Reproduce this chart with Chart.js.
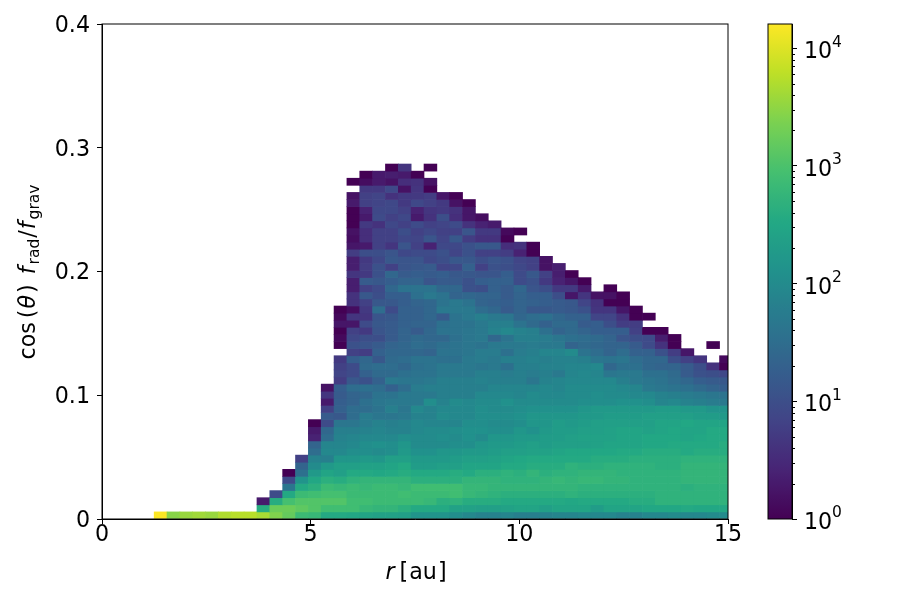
<!DOCTYPE html>
<html lang="en">
<head>
    <meta charset="UTF-8">
    <title>cos(theta) frad/fgrav histogram</title>
    <script src="https://cdn.jsdelivr.net/npm/chart.js"></script>
    <style>
        body, html {
            margin: 0;
            background: #fff;
        }
        #wrap {
            position: relative;
            width: 900px;
            height: 600px;
        }
        #wrap canvas {
            position: absolute;
            top: 0;
        }
    </style>
</head>
<body>
    <div id="wrap">
        <canvas id="histChart" width="900" height="600" style="left:0"></canvas>
        <canvas id="barChart" width="160" height="600" style="left:740px"></canvas>
    </div>
    <script>
        // histogram bins
        const rFirst = 1.25;
        const rStep = 0.3079;
        const fStep = 0.005737;

        const xTicks = [0, 5, 10, 15];
        const yTicks = [0, 0.1, 0.2, 0.3, 0.4];
        const barTicks = [1, 10, 100, 1000, 10000];
        const barMinorTicks = [2, 3, 4, 5, 6, 7, 8, 9, 20, 30, 40, 50, 60, 70, 80, 90, 200, 300, 400, 500, 600, 700, 800, 900, 2000, 3000, 4000, 5000, 6000, 7000, 8000, 9000];
        const barMax = 16030;

        // first filled r bin of every f bin, bottom row first
        const rowStart = [0, 8, 8, 9, 10, 10, 10, 11, 11, 12, 12, 12, 12, 12, 13, 13, 13, 13, 13, 14, 14, 14, 14, 15, 14, 14, 14, 14, 14, 14, 15, 15, 15, 15, 15, 15, 15, 15, 15, 15, 15, 15, 15, 15, 15, 15, 16, 15, 16, 18];

        // log10(count), one line per f bin, bottom row first
        const logCounts = [
            [4.2,3.45,3.55,3.6,3.55,3.7,3.75,3.75,3.65,3.4,3.2,2.85,2.8,2.55,2.55,2.5,2.45,2.4,2.4,2.35,2.15,2.15,2.15,2.05,1.95,1.85,1.85,1.9,1.8,1.8,1.85,1.9,1.9,1.95,1.95,1.95,1.85,1.85,1.95,1.95,2.0,1.95,1.95,2.0,2.0],
            [2.6,3.25,3.25,3.15,3.05,2.9,2.9,2.9,2.8,2.75,2.75,2.65,2.55,2.55,2.55,2.4,2.4,2.35,2.35,2.4,2.45,2.45,2.35,2.45,2.45,2.45,2.3,2.45,2.45,2.45,2.5,2.5,2.5,2.55,2.5,2.5,2.5],
            [0.3,2.6,2.95,3.05,3.05,3.05,3.05,2.9,2.9,2.85,2.85,2.85,2.85,2.8,2.65,2.7,2.6,2.6,2.6,2.55,2.55,2.55,2.55,2.55,2.5,2.55,2.55,2.55,2.55,2.6,2.6,2.7,2.7,2.7,2.7,2.7,2.7],
            [0.95,2.55,2.85,2.9,2.95,2.95,2.85,2.85,2.85,2.85,2.9,2.85,2.85,2.85,2.9,2.8,2.75,2.7,2.65,2.65,2.65,2.65,2.65,2.7,2.65,2.65,2.65,2.65,2.65,2.65,2.7,2.7,2.7,2.7,2.7,2.7],
            [1.65,2.55,2.65,2.85,2.8,2.85,2.8,2.85,2.85,2.8,2.9,2.9,2.9,2.9,2.8,2.8,2.75,2.75,2.75,2.75,2.75,2.75,2.75,2.7,2.7,2.7,2.7,2.7,2.7,2.7,2.7,2.65,2.7,2.7,2.7],
            [0.95,2.15,2.5,2.65,2.6,2.7,2.75,2.75,2.75,2.75,2.65,2.65,2.65,2.65,2.75,2.75,2.75,2.7,2.7,2.7,2.75,2.8,2.75,2.8,2.8,2.75,2.75,2.7,2.7,2.7,2.7,2.75,2.75,2.75,2.75],
            [0,1.55,2.25,2.45,2.35,2.55,2.55,2.5,2.55,2.6,2.55,2.55,2.55,2.6,2.55,2.65,2.65,2.7,2.65,2.75,2.65,2.7,2.7,2.75,2.75,2.75,2.7,2.7,2.7,2.7,2.7,2.75,2.75,2.75,2.75],
            [1.35,2.0,2.25,2.35,2.35,2.4,2.4,2.45,2.55,2.3,2.3,2.35,2.35,2.45,2.45,2.45,2.55,2.55,2.6,2.6,2.6,2.7,2.65,2.65,2.7,2.7,2.7,2.7,2.65,2.65,2.75,2.75,2.75,2.75],
            [0.8,1.85,1.8,2.2,2.2,2.25,2.2,2.35,2.35,2.25,2.25,2.25,2.3,2.35,2.35,2.4,2.45,2.5,2.55,2.55,2.55,2.55,2.55,2.6,2.6,2.6,2.65,2.65,2.65,2.65,2.7,2.7,2.7,2.7],
            [1.5,1.95,1.95,2.05,2.05,2.0,2.05,2.25,2.1,2.1,2.2,2.2,2.25,2.25,2.3,2.35,2.35,2.4,2.4,2.45,2.5,2.5,2.5,2.5,2.55,2.55,2.6,2.6,2.6,2.55,2.6,2.6,2.6],
            [1.35,1.9,1.9,1.95,2.05,2.1,2.05,2.2,2.0,2.0,2.0,2.05,2.05,2.2,2.25,2.25,2.3,2.35,2.3,2.35,2.35,2.35,2.4,2.45,2.45,2.45,2.5,2.5,2.55,2.55,2.55,2.55,2.6],
            [0.4,1.5,1.85,1.9,1.95,1.95,1.95,2.05,2.0,2.0,2.05,2.0,2.1,2.0,2.2,2.2,2.25,2.25,2.3,2.3,2.35,2.4,2.4,2.4,2.45,2.45,2.5,2.5,2.5,2.45,2.5,2.55,2.55],
            [0.3,1.4,1.8,1.8,1.85,1.9,1.85,1.85,1.95,2.0,2.0,2.05,2.1,2.1,2.05,2.05,2.2,2.1,2.25,2.3,2.3,2.35,2.35,2.4,2.45,2.45,2.4,2.45,2.5,2.45,2.45,2.55,2.55],
            [0,0.95,1.65,1.65,1.75,1.85,1.8,1.85,1.95,1.9,1.9,1.9,2.05,2.05,2.0,2.0,2.05,2.2,2.2,2.3,2.25,2.3,2.35,2.35,2.35,2.35,2.35,2.45,2.45,2.5,2.45,2.45,2.45],
            [1.2,1.15,1.5,1.75,1.65,1.65,1.7,1.85,1.85,2.0,1.95,1.95,2.05,2.05,2.05,2.1,2.2,2.2,2.2,2.2,2.25,2.25,2.3,2.3,2.3,2.35,2.35,2.35,2.35,2.3,2.3,2.25],
            [0.8,1.3,1.5,1.5,1.6,1.8,1.65,1.95,1.85,1.95,1.95,1.95,2.05,2.0,2.0,2.05,2.1,2.1,2.1,2.1,2.2,2.25,2.25,2.25,2.25,2.25,2.3,2.3,2.25,2.25,2.15,2.15],
            [0.3,1.25,1.35,1.55,1.65,1.7,1.7,1.7,2.05,1.85,2.0,1.95,2.0,2.0,2.1,2.0,2.0,2.0,2.0,2.0,2.05,2.05,2.05,2.1,2.1,2.05,1.9,1.95,1.85,1.8,1.75,1.7],
            [0.65,1.2,1.35,1.4,1.6,1.6,1.7,1.7,1.7,1.8,1.8,1.8,1.95,1.95,1.95,1.9,2.0,1.95,1.95,2.0,2.0,2.05,2.0,2.0,1.95,1.95,1.85,1.8,1.75,1.7,1.65,1.6],
            [0.2,1.25,1.5,1.55,1.5,1.3,1.5,1.75,1.8,1.8,1.8,1.8,1.8,1.9,1.9,1.9,1.9,1.95,1.9,2.0,2.0,2.0,2.0,1.95,1.9,1.7,1.65,1.6,1.55,1.45,1.35,1.25],
            [0.75,1.15,1.05,1.3,1.7,1.65,1.65,1.7,1.8,1.8,1.8,1.85,1.8,1.8,1.8,1.65,1.85,1.9,1.95,1.95,1.95,1.95,1.8,1.7,1.65,1.6,1.5,1.4,1.25,1.2,1.15],
            [0.85,0.95,1.3,1.45,1.45,1.55,1.6,1.6,1.7,1.7,1.7,1.8,1.8,1.75,1.8,1.75,1.8,1.7,1.9,1.95,1.9,1.65,1.7,1.7,1.55,1.55,1.45,1.2,1.05,1.0,0.9],
            [0.8,0.95,1.45,1.5,1.5,1.4,1.55,1.6,1.7,1.7,1.7,1.65,1.7,1.55,1.8,1.8,1.85,1.85,1.9,1.9,1.95,1.4,1.55,1.55,1.4,1.35,1.35,1.2,1.0,0.6,0],
            [0.7,1.25,1.4,1.15,1.45,1.5,1.6,1.6,1.55,1.55,1.7,1.75,1.7,1.8,1.8,1.85,1.8,1.85,1.85,1.8,1.65,1.6,1.65,1.5,1.4,1.4,1.0,0.8,0.65,null,0.1],
            [0.8,0.75,1.3,1.4,1.4,1.4,1.35,1.6,1.6,1.65,1.75,1.75,1.55,1.75,1.8,1.9,1.9,2.0,1.6,1.5,1.35,1.5,1.3,1.3,1.05,0.75,0.25],
            [0,1.05,1.1,1.2,1.35,1.4,1.5,1.45,1.55,1.6,1.65,1.6,1.7,1.7,1.7,1.75,1.7,1.7,1.35,1.45,1.4,1.35,1.35,1.2,0.95,0.6,0,null,null,0],
            [0.1,0.9,1.0,1.0,1.2,1.35,1.45,1.4,1.4,1.55,1.65,1.7,1.4,1.6,1.8,1.8,1.75,1.65,1.55,1.5,1.45,1.35,1.1,1.0,0.95,0.35,0],
            [0,0.8,0.7,1.1,1.2,1.35,1.2,1.4,1.6,1.6,1.65,1.7,1.85,1.95,1.85,1.8,1.55,1.35,1.45,1.35,1.25,1.25,1.25,0.8,0,0],
            [0.25,0.25,0.95,1.15,1.2,1.3,1.35,1.35,1.55,1.6,1.6,1.7,1.8,1.8,1.6,1.45,1.3,1.45,1.45,1.2,1.25,1.0,0.75,0.75],
            [0.1,0.65,0.65,1.1,1.15,1.3,1.3,1.4,1.2,1.6,1.7,1.8,1.7,1.65,1.4,1.5,1.55,1.4,1.3,1.3,0.85,0.85,0.6,0,0],
            [0,0.15,0.7,1.5,0.95,1.3,1.3,1.4,1.7,1.7,1.7,1.5,1.4,1.2,1.35,1.15,1.15,1.2,1.15,1.05,0.65,0.65,0.25,0],
            [0.6,0.8,1.15,1.15,1.25,1.35,1.4,1.6,1.7,1.6,1.35,1.3,1.25,1.35,1.3,1.25,1.2,1.15,0.85,0.6,0,0],
            [0.6,1.15,1.0,1.25,1.25,1.55,1.7,1.6,1.35,1.4,1.35,1.35,1.2,1.35,1.25,1.25,1.0,0.25,0.65,0.2,0.2,0],
            [0.35,0.8,0.95,1.4,1.6,1.6,1.6,1.4,1.4,1.05,1.0,1.3,1.2,1.4,1.1,1.0,0.7,0.7,0.3,null,0],
            [0.35,1.2,1.15,1.25,1.35,1.35,1.1,1.2,1.2,1.05,1.25,1.3,1.3,0.95,1.05,0.7,0.4,0.25,0],
            [0.65,0.7,1.05,1.4,1.2,1.25,1.2,1.25,1.15,1.15,1.1,1.1,1.25,0.95,1.15,0.8,0.35,0],
            [0.35,0.75,1.05,0.8,1.1,1.15,1.2,0.85,0.9,1.3,0.8,1.05,1.0,0.9,0.8,0.2,0.35],
            [0.35,0.7,0.9,1.15,1.1,1.1,0.9,1.0,1.15,1.15,1.0,1.1,1.05,0.85,0.8,0.2],
            [0.75,1.0,1.0,1.1,0.9,0.95,0.95,1.05,0.85,1.05,0.8,0.8,0.75,0.4,0],
            [0.25,0.3,0.8,0.65,1.1,0.8,0.4,0.9,0.9,1.05,1.15,1.15,0.55,0.6,0],
            [0.15,0.55,0.8,0.8,0.9,0.85,1.1,0.85,1.15,0.75,0.6,0.6,0],
            [0.2,0.55,0.8,0.8,1.0,0.8,0.9,0.8,0.8,1.1,0.7,0.7,0.1,0],
            [0,0.7,0.6,0.9,0.8,0.95,0.8,0.85,0.95,0.6,0.4,0.3],
            [0,0.3,0.95,0.8,0.9,0.3,0.6,1.0,0.55,0.25,0.15],
            [0,0.4,0.9,0.9,0.8,0.4,0.65,0.7,0.6,0.25],
            [0.3,0.8,0.85,0.9,0.7,0.9,0.8,0.7,0.2,0],
            [0.2,0.8,0.85,0.6,0.7,0.7,0.75,0.25,0],
            [0.7,0.7,0.9,0.2,0.65,0],
            [0,0.15,0.3,0.2,0.55,0.6,0.2],
            [0,0.3,0.35,0.3,0],
            [0,0.65,null,0]
        ];

        const mathFont = '"DejaVu Sans"';
        const viridisStops = ['#440154', '#482475', '#414487', '#355f8d', '#2a788e', '#21918c', '#22a884', '#44bf70', '#7ad151', '#bddf26', '#fde725'];

        function hexToRgb(hex) {
            return [1, 3, 5].map(i => parseInt(hex.slice(i, i + 2), 16));
        }

        function viridis(t) {
            const pos = Math.min(Math.max(t, 0), 1) * (viridisStops.length - 1);
            const i = Math.min(Math.floor(pos), viridisStops.length - 2);
            const a = hexToRgb(viridisStops[i]);
            const b = hexToRgb(viridisStops[i + 1]);
            const f = pos - i;
            return 'rgb(' + a.map((v, k) => Math.round(v + (b[k] - v) * f)).join(',') + ')';
        }

        const cells = [];
        const cellColors = [];
        const logMax = Math.log10(barMax);
        logCounts.forEach((row, r) => {
            row.forEach((v, k) => {
                if (v === null) return;
                const c = rowStart[r] + k;
                cells.push({ x: rFirst + (c + 0.5) * rStep, y: [r * fStep, (r + 1) * fStep] });
                cellColors.push(viridis(v / logMax));
            });
        });

        // mathtext-like label: runs of text with their own font style and size
        function drawRuns(ctx, runs, size) {
            const setFont = run => {
                ctx.font = (run.italic ? 'italic ' : '') + (run.sub ? size * 0.7 : size) + 'px ' + mathFont;
            };
            let total = 0;
            runs.forEach(run => {
                setFont(run);
                run.w = ctx.measureText(run.text).width + (run.gap || 0);
                total += run.w;
            });
            let x = -total / 2;
            ctx.textBaseline = 'alphabetic';
            ctx.textAlign = 'left';
            ctx.fillStyle = '#000';
            runs.forEach(run => {
                setFont(run);
                ctx.fillText(run.text, x, run.sub ? size * 0.2 : 0);
                x += run.w;
            });
        }

        const frameAndLabels = {
            id: 'frameAndLabels',
            afterDraw(chart) {
                const { ctx, chartArea: a } = chart;
                ctx.save();
                ctx.strokeStyle = '#000';
                ctx.lineWidth = 1;
                ctx.strokeRect(a.left, a.top, a.right - a.left, a.bottom - a.top);
                ctx.translate(416, 579);
                drawRuns(ctx, [
                    { text: 'r', italic: true, gap: 5 },
                    { text: '[', gap: 1 },
                    { text: 'au', gap: 1 },
                    { text: ']' }
                ], 22.2);
                ctx.restore();
                ctx.save();
                ctx.translate(35, 272);
                ctx.rotate(-Math.PI / 2);
                drawRuns(ctx, [
                    { text: 'cos', gap: 4 },
                    { text: '(', gap: 1 },
                    { text: '\u03b8', italic: true, gap: 2 },
                    { text: ')', gap: 10 },
                    { text: 'f', italic: true, gap: 2 },
                    { text: 'rad', sub: true, gap: 1 },
                    { text: '/', gap: 1 },
                    { text: 'f', italic: true, gap: 2 },
                    { text: 'grav', sub: true }
                ], 22.2);
                ctx.restore();
            }
        };

        Chart.defaults.font.family = mathFont;
        Chart.defaults.font.size = 22.2;
        Chart.defaults.color = '#000';

        new Chart(document.getElementById('histChart'), {
            type: 'bar',
            data: {
                datasets: [{
                    data: cells,
                    backgroundColor: cellColors,
                    borderWidth: 0,
                    barPercentage: 1,
                    categoryPercentage: 1
                }]
            },
            options: {
                responsive: false,
                animation: false,
                events: [],
                layout: { padding: { top: 24, right: 172, left: 0, bottom: 0 } },
                plugins: { legend: { display: false }, tooltip: { enabled: false } },
                scales: {
                    x: {
                        type: 'linear',
                        offset: false,
                        min: 0,
                        max: 15,
                        afterBuildTicks: s => { s.ticks = xTicks.map(v => ({ value: v })); },
                        afterFit: s => { s.height = 81; },
                        grid: { offset: false, drawOnChartArea: false, tickLength: 5, tickColor: '#000' },
                        border: { color: '#000' },
                        ticks: { padding: -2, maxRotation: 0, autoSkip: false, callback: v => String(v) }
                    },
                    y: {
                        min: 0,
                        max: 0.4,
                        afterBuildTicks: s => { s.ticks = yTicks.map(v => ({ value: v })); },
                        afterFit: s => { s.width = 102; },
                        grid: { drawOnChartArea: false, tickLength: 5, tickColor: '#000' },
                        border: { color: '#000' },
                        ticks: { padding: 7, labelOffset: 2, autoSkip: false, callback: v => (v === 0 ? '0' : v.toFixed(1)) }
                    }
                }
            },
            plugins: [frameAndLabels]
        });

        const barFrame = {
            id: 'barFrame',
            afterDraw(chart) {
                const { ctx, chartArea: a } = chart;
                const y = chart.scales.y;
                ctx.save();
                ctx.strokeStyle = '#000';
                ctx.lineWidth = 1;
                ctx.strokeRect(a.left, a.top, a.right - a.left, a.bottom - a.top);
                ctx.beginPath();
                barMinorTicks.forEach(v => {
                    const p = Math.round(y.getPixelForValue(v)) + 0.5;
                    ctx.moveTo(a.right, p);
                    ctx.lineTo(a.right + 3, p);
                });
                ctx.stroke();
                ctx.fillStyle = '#000';
                ctx.textAlign = 'left';
                ctx.textBaseline = 'alphabetic';
                barTicks.forEach((v, i) => {
                    const p = y.getPixelForValue(v);
                    ctx.font = '22.2px ' + mathFont;
                    ctx.fillText('10', a.right + 12, p + 10);
                    ctx.font = '15.5px ' + mathFont;
                    ctx.fillText(String(i), a.right + 40, p - 1.6);
                });
                ctx.restore();
            }
        };

        function barGradient(context) {
            const a = context.chart.chartArea;
            if (!a) return '#21918c';
            const g = context.chart.ctx.createLinearGradient(0, a.bottom, 0, a.top);
            for (let i = 0; i <= 64; i++) {
                g.addColorStop(i / 64, viridis(i / 64));
            }
            return g;
        }

        new Chart(document.getElementById('barChart'), {
            type: 'bar',
            data: {
                labels: ['counts'],
                datasets: [{
                    data: [[1, barMax]],
                    backgroundColor: barGradient,
                    borderWidth: 0,
                    barPercentage: 1,
                    categoryPercentage: 1
                }]
            },
            options: {
                responsive: false,
                animation: false,
                events: [],
                layout: { padding: { top: 24, left: 28, right: 0, bottom: 81 } },
                plugins: { legend: { display: false }, tooltip: { enabled: false } },
                scales: {
                    x: { display: false },
                    y: {
                        type: 'logarithmic',
                        position: 'right',
                        min: 1,
                        max: barMax,
                        afterBuildTicks: s => { s.ticks = barTicks.map(v => ({ value: v })); },
                        afterFit: s => { s.width = 108; },
                        grid: { drawOnChartArea: false, tickLength: 5, tickColor: '#000' },
                        border: { color: '#000' },
                        ticks: { display: false }
                    }
                }
            },
            plugins: [barFrame]
        });
    </script>
</body>
</html>
